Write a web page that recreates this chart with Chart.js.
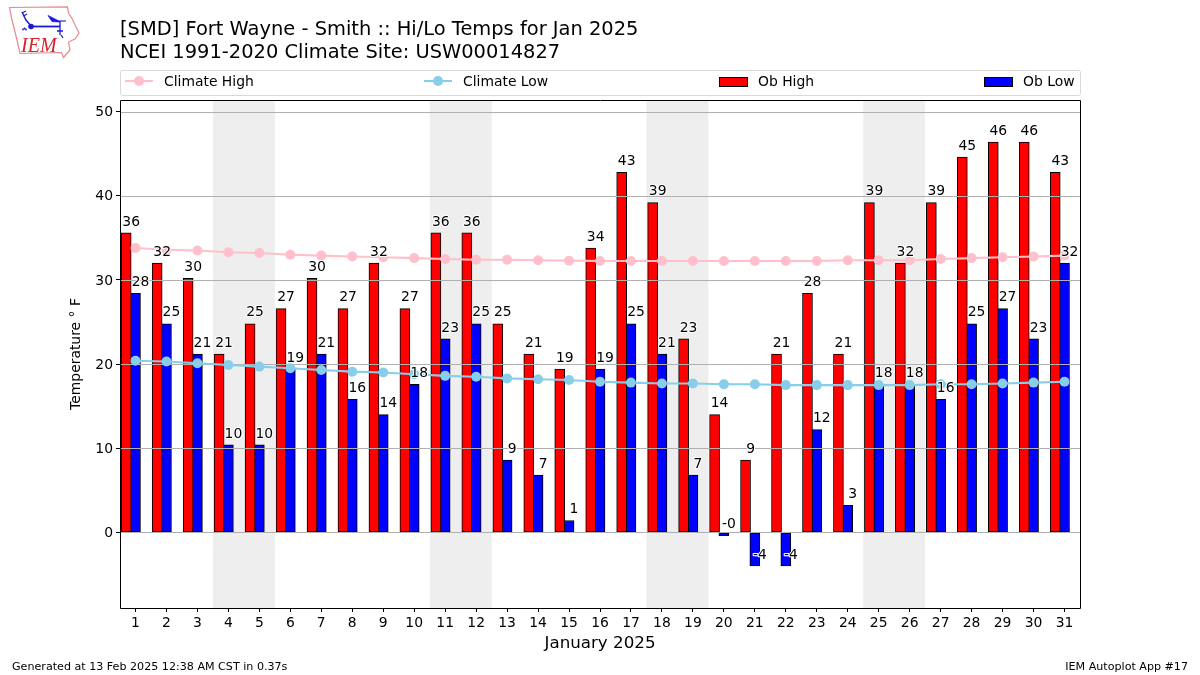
<!DOCTYPE html>
<html>
<head>
<meta charset="utf-8">
<title>Hi/Lo Temps</title>
<script src="https://cdn.jsdelivr.net/npm/chart.js@4"></script>
<style>
html,body{margin:0;padding:0;background:#fff;width:1200px;height:675px;overflow:hidden}
#wrap{position:relative;width:1200px;height:675px}
canvas{display:block}
#logo{position:absolute;left:0;top:0}
</style>
</head>
<body>
<div id="wrap">
<canvas id="c" width="1200" height="675"></canvas>
<svg id="logo" width="90" height="65" viewBox="0 0 90 65">
  <path d="M9.5 7.5 L67.5 6.8 L68.5 13 L72 18.5 L75 25 L79 33 L75 39 L68.5 42 L70 50 L63.5 57.5 L61.5 52.5 L20 53.5 L17 40 L12 20 Z" fill="#fff" stroke="#e58a8f" stroke-width="1.2"/>
  <g fill="#1a1ad6" stroke="#1a1ad6">
    <path d="M22 12 L26 20 L31 26" fill="none" stroke-width="1.4"/>
    <path d="M22 13 L26 11 M23.5 16 L27 14" fill="none" stroke-width="1.1"/>
    <circle cx="31" cy="26.5" r="2.8" stroke="none"/>
    <path d="M33 26.5 L60 26.5" fill="none" stroke-width="1.8"/>
    <path d="M48 15.5 L56 19.5 L60 22 L52 21.5 Z" stroke-width="0.8"/>
    <path d="M56 21 L66 21" fill="none" stroke-width="1.1"/>
    <path d="M60 21 L60 35 M57 31 L63 31 M61 35 L63 38" fill="none" stroke-width="1.3"/>
    <circle cx="24.5" cy="28.5" r="1" stroke="none"/>
    <circle cx="23" cy="29.5" r="0.9" stroke="none"/>
    <circle cx="26" cy="29.5" r="0.9" stroke="none"/>
  </g>
  <text x="21" y="51.5" font-family="Liberation Serif" font-style="italic" font-size="20" fill="#d8232a">IEM</text>
</svg>
</div>
<script>
const days = [1,2,3,4,5,6,7,8,9,10,11,12,13,14,15,16,17,18,19,20,21,22,23,24,25,26,27,28,29,30,31];
const obHigh = [35.6,32,30.2,21.2,24.8,26.6,30.2,26.6,32,26.6,35.6,35.6,24.8,21.2,19.4,33.8,42.8,39.2,23,14,8.6,21.2,28.4,21.2,39.2,32,39.2,44.6,46.4,46.4,42.8];
const obLow = [28.4,24.8,21.2,10.4,10.4,19.4,21.2,15.8,14,17.6,23,24.8,8.6,6.8,1.4,19.4,24.8,21.2,6.8,-0.4,-4,-4,12.2,3.2,17.6,17.6,15.8,24.8,26.6,23,32];
const climateHigh = [33.8,33.6,33.5,33.3,33.2,33.0,32.9,32.8,32.7,32.6,32.5,32.4,32.4,32.35,32.3,32.25,32.25,32.25,32.25,32.25,32.25,32.25,32.25,32.35,32.35,32.35,32.5,32.6,32.7,32.8,32.9];
const climateLow = [20.4,20.3,20.1,19.9,19.7,19.5,19.3,19.1,19.0,18.8,18.6,18.5,18.3,18.2,18.1,17.9,17.8,17.7,17.7,17.6,17.6,17.5,17.5,17.5,17.5,17.5,17.6,17.6,17.7,17.8,17.9];
const weekendStarts = [4,11,18,25];
const titleLines = ["[SMD] Fort Wayne - Smith :: Hi/Lo Temps for Jan 2025","NCEI 1991-2020 Climate Site: USW00014827"];
const xTitle = "January 2025";
const yTitle = "Temperature \u00B0 F";
const footLeft = "Generated at 13 Feb 2025 12:38 AM CST in 0.37s";
const footRight = "IEM Autoplot App #17";

const FONT = '"DejaVu Sans"';
const INK = '#000000';
const pairs = (xs, ys) => xs.map((x, i) => ({x, y: ys[i]}));

const decor = {
  id: 'decor',
  beforeDatasetsDraw(chart) {
    const {ctx, chartArea: a, scales: {x}} = chart;
    ctx.save();
    ctx.fillStyle = '#eeeeee';
    weekendStarts.forEach(d => {
      const l = x.getPixelForValue(d - 0.5), r = x.getPixelForValue(d + 1.5);
      ctx.fillRect(l, a.top, r - l, a.bottom - a.top);
    });
    ctx.restore();
  },
  afterDatasetDraw(chart, args) {
    if (args.index !== 2) return;
    const {ctx, chartArea: a, scales: {y}} = chart;
    ctx.save();
    ctx.strokeStyle = '#b0b0b0';
    ctx.lineWidth = 1;
    y.ticks.forEach(t => {
      const p = Math.round(y.getPixelForValue(t.value)) + 0.5;
      ctx.beginPath(); ctx.moveTo(a.left, p); ctx.lineTo(a.right, p); ctx.stroke();
    });
    ctx.restore();
  },
  afterDatasetsDraw(chart) {
    const {ctx, chartArea: a, scales: {y}} = chart;
    ctx.save();
    ctx.font = '13.9px ' + FONT;
    ctx.textAlign = 'center';
    ctx.textBaseline = 'alphabetic';
    ctx.lineJoin = 'round';
    [2, 3].forEach(di => {
      const meta = chart.getDatasetMeta(di);
      const vals = chart.data.datasets[di].data;
      meta.data.forEach((bar, i) => {
        const v = vals[i].y;
        const px = bar.x + 5;
        const py = y.getPixelForValue(v) - 7.3;
        const s = v.toFixed(0);
        ctx.strokeStyle = '#ffffff';
        ctx.lineWidth = 2;
        ctx.strokeText(s, px, py);
        ctx.fillStyle = INK;
        ctx.fillText(s, px, py);
      });
    });
    ctx.strokeStyle = '#000';
    ctx.lineWidth = 1;
    ctx.strokeRect(a.left + 0.5, a.top + 0.5, a.right - a.left, a.bottom - a.top);
    ctx.restore();
  },
  afterDraw(chart) {
    const {ctx} = chart;
    const ds = chart.data.datasets;
    ctx.save();
    // legend frame
    ctx.strokeStyle = '#d8d8d8';
    ctx.lineWidth = 1;
    ctx.beginPath();
    ctx.roundRect(120.5, 70.5, 960, 25, 2);
    ctx.stroke();
    ctx.font = '13.9px ' + FONT;
    ctx.textBaseline = 'alphabetic';
    ctx.textAlign = 'left';
    const ly = 81;
    [[0, 125], [1, 424], [2, 719], [3, 984]].forEach(([di, lx]) => {
      const d = ds[di];
      if (d.type === 'line') {
        ctx.strokeStyle = d.borderColor;
        ctx.lineWidth = 2;
        ctx.beginPath(); ctx.moveTo(lx, ly); ctx.lineTo(lx + 28, ly); ctx.stroke();
        ctx.fillStyle = d.pointBackgroundColor;
        ctx.beginPath(); ctx.arc(lx + 14, ly, 5, 0, Math.PI * 2); ctx.fill();
      } else {
        ctx.fillStyle = d.backgroundColor;
        ctx.strokeStyle = '#000';
        ctx.lineWidth = 1;
        ctx.fillRect(lx + 0.5, 77.5, 28, 9);
        ctx.strokeRect(lx + 0.5, 77.5, 28, 9);
      }
      ctx.fillStyle = INK;
      ctx.fillText(d.label, lx + 39, 86);
    });
    // footer
    ctx.font = '11.12px ' + FONT;
    ctx.fillStyle = INK;
    ctx.fillText(footLeft, 12, 670);
    ctx.textAlign = 'right';
    ctx.fillText(footRight, 1188, 670);
    ctx.restore();
  }
};

new Chart(document.getElementById('c'), {
  data: {
    datasets: [
      {type: 'line', label: 'Climate High', data: pairs(days, climateHigh), order: 0,
       borderColor: '#ffc0cb', backgroundColor: '#ffc0cb', pointBackgroundColor: '#ffc0cb', pointBorderColor: '#ffc0cb',
       borderWidth: 2.08, pointRadius: 5, pointBorderWidth: 0, tension: 0, fill: false},
      {type: 'line', label: 'Climate Low', data: pairs(days, climateLow), order: 0,
       borderColor: '#87ceeb', backgroundColor: '#87ceeb', pointBackgroundColor: '#87ceeb', pointBorderColor: '#87ceeb',
       borderWidth: 2.08, pointRadius: 5, pointBorderWidth: 0, tension: 0, fill: false},
      {type: 'bar', label: 'Ob High', data: pairs(days.map(d => d - 0.3), obHigh), order: 1, grouped: false,
       backgroundColor: '#ff0000', borderColor: '#000000', borderWidth: 1, borderSkipped: false, barThickness: 10},
      {type: 'bar', label: 'Ob Low', data: pairs(days, obLow), order: 1, grouped: false,
       backgroundColor: '#0000ff', borderColor: '#000000', borderWidth: 1, borderSkipped: false, barThickness: 10}
    ]
  },
  options: {
    responsive: false,
    animation: false,
    devicePixelRatio: 1,
    layout: {padding: {left: 0, right: 120, top: 0, bottom: 0}},
    scales: {
      x: {
        type: 'linear', position: 'bottom', min: 0.5, max: 31.5, offset: false,
        afterFit(s) { s.height = 67; },
        afterBuildTicks(s) { s.ticks = days.map(value => ({value})); },
        grid: {display: true, offset: false, drawOnChartArea: false, drawTicks: true, tickLength: 4, tickColor: '#000', tickWidth: 1},
        border: {display: false},
        ticks: {autoSkip: false, maxRotation: 0, padding: 3, color: INK, font: {family: FONT, size: 13.9},
                callback: v => String(v)},
        title: {display: true, text: xTitle, color: INK, font: {family: FONT, size: 16.7}, padding: {top: 3, bottom: 21}}
      },
      y: {
        type: 'linear', position: 'left', min: -9, max: 51.4,
        afterFit(s) { s.width = 120; },
        grid: {display: true, drawOnChartArea: false, drawTicks: true, tickLength: 4, tickColor: '#000', tickWidth: 1},
        border: {display: false},
        ticks: {stepSize: 10, includeBounds: false, padding: 3, labelOffset: 1, color: INK, font: {family: FONT, size: 13.9}, callback: v => String(v)},
        title: {display: true, text: yTitle, color: INK, font: {family: FONT, size: 13.9}, padding: {top: 68, bottom: 0}}
      }
    },
    plugins: {
      legend: {display: false},
      tooltip: {enabled: false},
      title: {display: true, text: titleLines, align: 'start', fullSize: false, color: INK,
              font: {family: FONT, size: 19.44, lineHeight: 1.16, weight: 'normal'},
              padding: {top: 18.7, bottom: 36.2}}
    }
  },
  plugins: [decor]
});
</script>
</body>
</html>
